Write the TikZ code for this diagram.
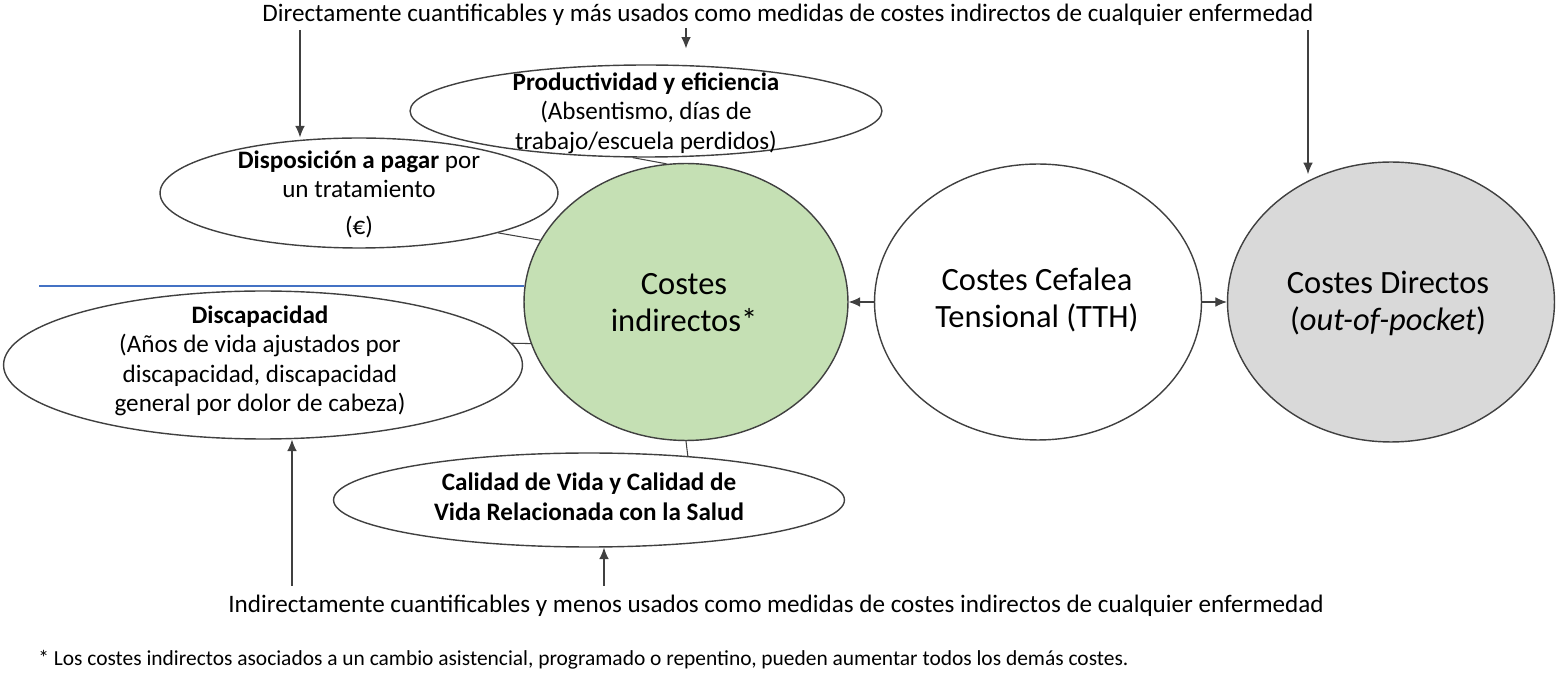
\documentclass[tikz,border=0pt]{standalone}
\usepackage{fontspec}
\setmainfont{Carlito}
\usetikzlibrary{shapes.geometric,arrows.meta}
\definecolor{lgreen}{HTML}{C5E0B4}
\definecolor{lgray}{HTML}{D9D9D9}
\definecolor{lblue}{HTML}{4472C4}
\definecolor{edge}{HTML}{404040}
\begin{document}
\begin{tikzpicture}[x=0.02cm,y=-0.02cm,
  ell/.style={ellipse, draw=edge, line width=0.8pt, inner sep=0pt},
  conn/.style={draw=edge, line width=0.6pt},
  arr/.style={conn, -{Latex[length=6.5pt,width=5.5pt]}},
  lbl/.style={align=center, inner sep=0pt, font=\fontsize{14.3}{16.8}\selectfont},
  big/.style={align=center, inner sep=0pt, font=\fontsize{18.5}{21}\selectfont},
  head/.style={inner sep=0pt, font=\fontsize{14.3}{16}\selectfont}]
\useasboundingbox (0,0) rectangle (1560,675);

% header and footer texts
\node[head] (top) at (788,15) {Directamente cuantificables y más usados como medidas de costes indirectos de cualquier enfermedad};
\node[head] (bot) at (776,606) {Indirectamente cuantificables y menos usados como medidas de costes indirectos de cualquier enfermedad};
\node[inner sep=0pt, anchor=west, font=\fontsize{12.2}{14}\selectfont] (foot) at (38,660) {* Los costes indirectos asociados a un cambio asistencial, programado o repentino, pueden aumentar todos los demás costes.};

% blue line (behind circle)
\coordinate (bl) at (39,286);
\draw[lblue, line width=0.7pt] (bl) -- (bl -| 524,286);

% ellipses
\node[ell, minimum width=9.44cm, minimum height=1.84cm] (prodE) at (646,111) {};
\node[ell, minimum width=7.96cm, minimum height=2.2cm] (dispE) at (359,193) {};
\node[ell, minimum width=10.38cm, minimum height=2.96cm] (discE) at (263,365) {};
\node[ell, minimum width=10.22cm, minimum height=1.88cm] (calE) at (589,500) {};
\node[ell, fill=lgreen, minimum width=6.48cm, minimum height=5.54cm] (green) at (686,302) {};
\node[ell, minimum width=6.54cm, minimum height=5.52cm] (tth) at (1038,302) {};
\node[ell, fill=lgray, minimum width=6.54cm, minimum height=5.6cm] (dir) at (1391,302) {};

% labels
\node[lbl] (prod) at (646,113) {\textbf{Productividad y eficiencia}\\(Absentismo, días de\\trabajo/escuela perdidos)};
\node[lbl] (disp) at (359,194) {\textbf{Disposición a pagar} por\\un tratamiento\\[4pt](€)};
\node[lbl] (disc) at (260,361) {\textbf{Discapacidad}\\(Años de vida ajustados por\\discapacidad, discapacidad\\general por dolor de cabeza)};
\node[lbl] (cal) at (589,497) {\textbf{Calidad de Vida y Calidad de}\\\textbf{Vida Relacionada con la Salud}};
\node[big] (gl) at (684,303) {Costes\\indirectos*};
\node[big] (tl) at (1037,300) {Costes Cefalea\\Tensional (TTH)};
\node[big] (dl) at (1388,303) {Costes Directos\\(\textit{out-of-pocket})};

% short links to the central circle
\draw[conn] (prodE.-106) -- (green.98);
\draw[conn] (dispE.-16) -- (green.157);
\draw[conn] (discE.5) -- (green.-165);
\draw[conn] (green.south) -- (calE.24);

% main arrows
\draw[arr] (tth.west) -- (green.east);
\draw[arr] (tth.east) -- (dir.west);

% arrows from the header
\coordinate (ta1) at (300,30);
\coordinate (ta2) at (686,28);
\coordinate (ta3) at (1308,30);
\draw[arr] (ta1) -- (ta1 |- dispE.north);
\draw[arr, shorten >=9pt] (ta2) -- (ta2 |- prodE.north);
\draw[arr, shorten >=3.5pt] (ta3) -- (ta3 |- dir.124);

% arrows from the footer line
\coordinate (ba1) at (292,586);
\coordinate (ba2) at (604,586);
\draw[arr] (ba1) -- (ba1 |- discE.south);
\draw[arr] (ba2) -- (ba2 |- calE.south);
\end{tikzpicture}
\end{document}
